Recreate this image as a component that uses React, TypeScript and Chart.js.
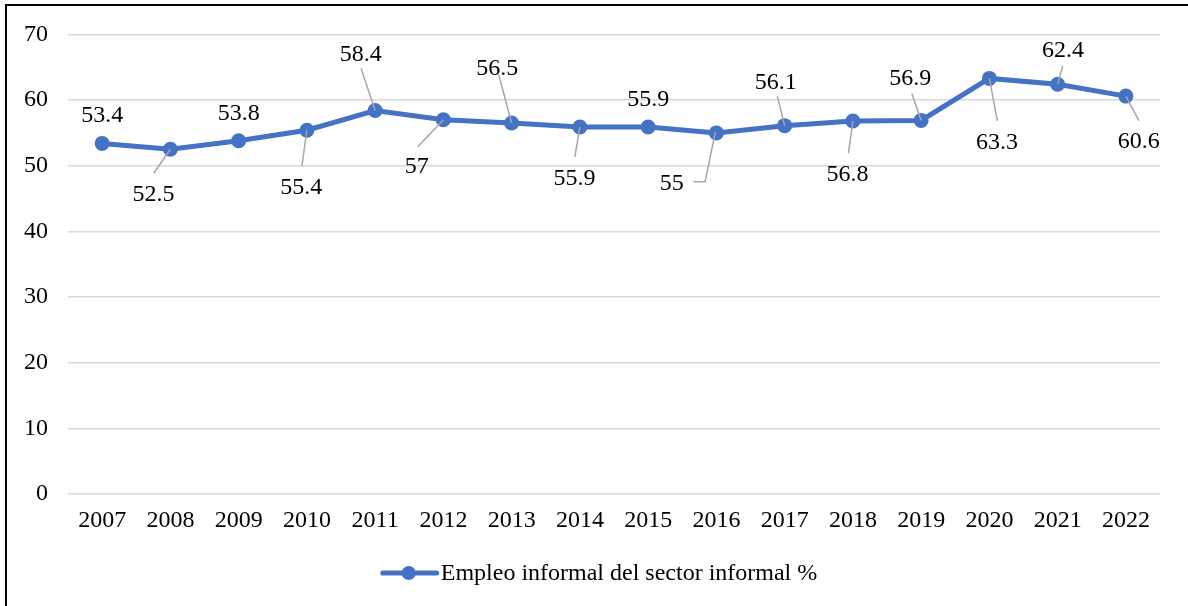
import React, { useEffect, useRef } from "react";
import { Chart, registerables } from "chart.js";

Chart.register(...registerables);

// ---- Data ----
const years = ["2007", "2008", "2009", "2010", "2011", "2012", "2013", "2014", "2015", "2016", "2017", "2018", "2019", "2020", "2021", "2022"];
const informalEmployment = [53.4, 52.5, 53.8, 55.4, 58.4, 57, 56.5, 55.9, 55.9, 55, 56.1, 56.8, 56.9, 63.3, 62.4, 60.6];
const seriesName = "Empleo informal del sector informal %";
const yMin = 0;
const yMax = 70;
const yStep = 10;

// ---- Label placement (pixel offsets from each point; style only) ----
const labelOffsets: [number, number][] = [
  [0, -29], [-17, 44], [0, -28.5], [-5.6, 55.6], [-14.5, -58], [-26.6, 45.3], [-14.5, -56.3], [-5.3, 49.8],
  [0, -29.4], [-44.6, 48.8], [-9, -44.8], [-5.3, 52.3], [-11, -43], [7.7, 62.5], [5.4, -35], [12.8, 43.9],
];
const leaderPaths: [number, number][][] = [
  [], [[-16.7, 24], [0, 0]], [], [[-5, 36], [0, 0]], [[-14, -42], [0, 0]], [[-25.6, 27], [0, 0]],
  [[-13, -48.7], [0, 0]], [[-5, 30], [0, 0]], [], [[-23, 48.8], [-11.3, 48.8], [-1, -1]],
  [[-7.3, -29.6], [0, 0]], [[-4.5, 32.3], [0, 0]], [[-9.3, -27], [0, 0]], [[8, 42.4], [0, 0]],
  [[5, -18.2], [0, 0]], [[13, 24.6], [0, 0]],
];

const FONT = "'Liberation Serif', 'Times New Roman', serif";
const BLUE = "#4472C4";
const TEXT = "#000000";

const labelPlugin = {
  id: "excelLabels",
  afterDatasetsDraw(chart: any) {
    const ctx = chart.ctx;
    const meta = chart.getDatasetMeta(0);
    ctx.save();
    // leader lines
    ctx.strokeStyle = "#a6a6a6";
    ctx.lineWidth = 1.5;
    meta.data.forEach((pt: any, i: number) => {
      const path = leaderPaths[i];
      if (!path || path.length < 2) return;
      ctx.beginPath();
      path.forEach(([dx, dy], k) => {
        const x = pt.x + dx;
        const y = pt.y + dy;
        if (k === 0) ctx.moveTo(x, y);
        else ctx.lineTo(x, y);
      });
      ctx.stroke();
    });
    // labels
    ctx.fillStyle = TEXT;
    ctx.font = `24px ${FONT}`;
    ctx.textAlign = "center";
    ctx.textBaseline = "alphabetic";
    meta.data.forEach((pt: any, i: number) => {
      const [dx, dy] = labelOffsets[i];
      ctx.fillText(String(informalEmployment[i]), pt.x + dx, pt.y + dy + 8);
    });
    ctx.restore();
  },
  afterDraw(chart: any) {
    const ctx = chart.ctx;
    ctx.save();
    ctx.font = `24px ${FONT}`;
    const tw = ctx.measureText(seriesName).width;
    const total = 60 + tw;
    const cx = chart.width / 2 + 5;
    const x0 = cx - total / 2;
    const y = 573;
    ctx.strokeStyle = BLUE;
    ctx.lineWidth = 5;
    ctx.lineCap = "round";
    ctx.beginPath();
    ctx.moveTo(x0 + 2, y);
    ctx.lineTo(x0 + 56, y);
    ctx.stroke();
    ctx.fillStyle = BLUE;
    ctx.beginPath();
    ctx.arc(x0 + 28, y, 7, 0, Math.PI * 2);
    ctx.fill();
    ctx.fillStyle = TEXT;
    ctx.textAlign = "left";
    ctx.textBaseline = "middle";
    ctx.fillText(seriesName, x0 + 60, y + 1);
    ctx.restore();
  },
};

export default function App() {
  const canvasRef = useRef<HTMLCanvasElement | null>(null);

  useEffect(() => {
    if (!canvasRef.current) return;
    const chart = new Chart(canvasRef.current, {
      type: "line",
      data: {
        labels: years,
        datasets: [
          {
            label: seriesName,
            data: informalEmployment,
            borderColor: BLUE,
            backgroundColor: BLUE,
            borderWidth: 5,
            pointRadius: 7.5,
            pointBorderWidth: 0,
            pointBackgroundColor: BLUE,
            tension: 0,
          },
        ],
      },
      options: {
        animation: false,
        responsive: false,
        maintainAspectRatio: false,
        layout: { padding: { left: 0, top: 34, right: 28, bottom: 52 } },
        plugins: {
          legend: { display: false },
          tooltip: { enabled: false },
        },
        scales: {
          x: {
            offset: true,
            grid: { display: false, drawTicks: false },
            border: { display: false },
            ticks: { color: TEXT, font: { family: FONT, size: 24 }, padding: 12, maxRotation: 0, autoSkip: false },
            afterFit: (s: any) => { s.height = 60; },
          },
          y: {
            min: yMin,
            max: yMax,
            ticks: { stepSize: yStep, color: TEXT, font: { family: FONT, size: 24 }, padding: 20 },
            grid: { color: "#d9d9d9", lineWidth: 1.5, drawTicks: false },
            border: { display: false },
            afterFit: (s: any) => { s.width = 68; },
          },
        },
      },
      plugins: [labelPlugin],
    });
    return () => chart.destroy();
  }, []);

  return (
    <div style={{ position: "fixed", left: 0, top: 0, width: 1188, height: 606, overflow: "hidden", background: "#fff" }}>
      <canvas ref={canvasRef} width={1188} height={606} style={{ position: "absolute", left: 0, top: 0, width: 1188, height: 606 }} />
      <div style={{ position: "absolute", left: 5, top: 4, width: 1300, height: 700, border: "2px solid #000", pointerEvents: "none" }} />
    </div>
  );
}
